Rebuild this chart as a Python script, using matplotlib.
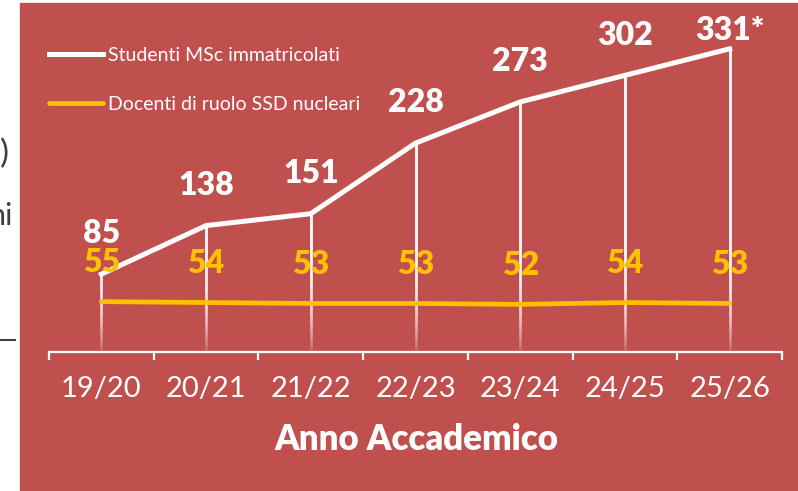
import numpy as np
import matplotlib.pyplot as plt
from matplotlib.lines import Line2D
from matplotlib.patches import Rectangle

plt.rcParams['font.family'] = ['Lato', 'DejaVu Sans']

# dati
anni = ['19/20', '20/21', '21/22', '22/23', '23/24', '24/25', '25/26']
studenti = [85, 138, 151, 228, 273, 302, 331]
docenti = [55, 54, 53, 53, 52, 54, 53]
etichette_studenti = ['85', '138', '151', '228', '273', '302', '331*']
etichette_docenti = ['55', '54', '53', '53', '52', '54', '53']

ROSSO = '#C0504D'
GIALLO = '#FFC000'
W, H = 798, 491

fig = plt.figure(figsize=(W / 100, H / 100), dpi=100, facecolor='white')

# pannello rosso della slide
fig.add_artist(Rectangle((20 / W, 0), 1 - 20 / W, (H - 3) / H,
                         transform=fig.transFigure, color=ROSSO, zorder=0))

# pezzi di testo della slide tagliati a sinistra
fig.text(9 / W, 1 - 154 / H, ')', ha='right', va='center', fontsize=24, color='#404040')
fig.text(13 / W, 1 - 216 / H, 'ni', ha='right', va='center', fontsize=22, color='#404040')
fig.add_artist(Line2D([0, 15 / W], [1 - 340 / H] * 2, transform=fig.transFigure,
                      color='#404040', lw=1.5))

ax = fig.add_axes([49 / W, 1 - 352 / H, (782 - 49) / W, (352 - 3) / H])
ax.set_facecolor('none')
x = np.arange(len(anni))
ax.set_xlim(-0.5, len(anni) - 0.5)
ax.set_ylim(0, 381)

# linee verticali sfumate (strati sovrapposti)
for k in range(20):
    basso = k * 6.5
    for xi, v in zip(x, studenti):
        if v > basso:
            ax.vlines(xi, basso, v, color='white', alpha=0.16, lw=1.8,
                      capstyle='butt', zorder=2)

l1, = ax.plot(x, studenti, color='white', lw=3.6, zorder=3, solid_joinstyle='miter',
              label='Studenti MSc immatricolati')
l2, = ax.plot(x, docenti, color=GIALLO, lw=3.4, zorder=3, solid_capstyle='round',
              label='Docenti di ruolo SSD nucleari')

offs = [29, 29, 29, 29, 29, 29, 13]
for xi, v, t, o in zip(x, studenti, etichette_studenti, offs):
    ax.annotate(t, (xi, v), xytext=(0, o), textcoords='offset points', ha='center',
                va='center', fontsize=23, fontweight='heavy', color='white', zorder=4)
for xi, v, t in zip(x, docenti, etichette_docenti):
    ax.annotate(t, (xi, v), xytext=(0, 28), textcoords='offset points', ha='center',
                va='center', fontsize=23, fontweight='heavy', color=GIALLO, zorder=4)

for s in ['top', 'right', 'left']:
    ax.spines[s].set_visible(False)
ax.spines['bottom'].set_color('white')
ax.spines['bottom'].set_linewidth(1.6)
ax.set_yticks([])
ax.set_xticks(x)
ax.set_xticklabels(anni, fontsize=21, color='white')
ax.set_xticks(np.arange(-0.5, len(anni)), minor=True)
ax.tick_params(axis='x', which='major', length=0, pad=17)
ax.tick_params(axis='x', which='minor', length=6, width=1.6, color='white', direction='out')

fig.text(416 / W, 1 - 440 / H, 'Anno Accademico', ha='center', va='center',
         fontsize=25, fontweight='heavy', color='white')

ax.legend(handles=[l1, l2], loc='upper left', bbox_to_anchor=(49 / W, 1 - 47 / H),
          bbox_transform=fig.transFigure, frameon=False, fontsize=14,
          labelcolor='white', handlelength=2.8, handletextpad=0.26,
          labelspacing=1.65, borderpad=0, borderaxespad=0)

fig.savefig('out.png', dpi=100, facecolor='white')
